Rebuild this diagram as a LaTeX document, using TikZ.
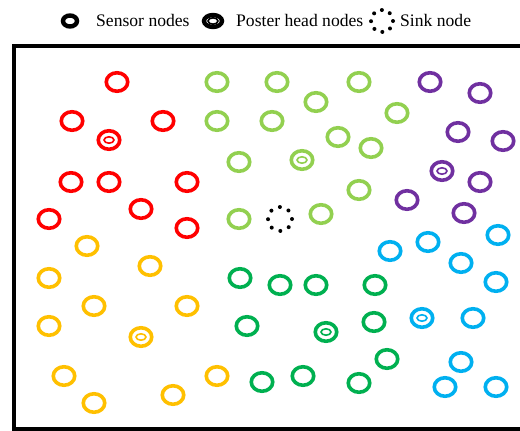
\documentclass[tikz,border=0pt]{standalone}
\usepackage{fontspec}
\setmainfont{Liberation Serif}
\usetikzlibrary{shapes.geometric}
\definecolor{redn}{HTML}{FF0000}
\definecolor{lgreen}{HTML}{92D050}
\definecolor{purp}{HTML}{7030A0}
\definecolor{skyb}{HTML}{00B0F0}
\definecolor{dgreen}{HTML}{00B050}
\definecolor{orng}{HTML}{FFC000}
\tikzset{
	sensor/.style={ellipse, draw=#1, line width=3.6pt, minimum width=21.5pt, minimum height=18.5pt, inner sep=0pt},
	head/.style={sensor=#1, path picture={\draw[#1, line width=1.6pt] (path picture bounding box.center) ellipse (5pt and 3.2pt);}},
	sink/.style={circle, draw=black, line width=4pt, line cap=round, dash pattern=on 0pt off 9.42pt, minimum size=24pt, inner sep=0pt},
	legtext/.style={anchor=base west, inner sep=0pt, font=\fontsize{17.6}{20}\selectfont}
}
\begin{document}
\begin{tikzpicture}[x=1pt,y=-1pt]
		\useasboundingbox (0,0) rectangle (520,431);
		\fill[white] (0,0) rectangle (520,431);
		
		% legend
		\node[ellipse, draw=black, line width=4.4pt, minimum width=14pt, minimum height=11pt, inner sep=0pt] (lsensor) at (70,21) {};
		\node[legtext] (tsensor) at (96,27) {Sensor nodes};
		\node[head=black, line width=4.4pt, minimum width=18pt, minimum height=12pt] (lhead) at (213,21) {};
		\node[legtext] (thead) at (236,27) {Poster head nodes};
		\node[sink, minimum size=22pt, dash pattern=on 0pt off 8.64pt] (lsink) at (382,21) {};
		\node[legtext] (tsink) at (400,27) {Sink node};
		
		% field
		\draw[line width=4pt] (14,46) rectangle (545,429);
		
		% red cluster
		\node[sensor=redn] (r1) at (117,82) {};
		\node[sensor=redn] (r2) at (72,121) {};
		\node[sensor=redn] (r3) at (163,121) {};
		\node[head=redn] (rh) at (109,140) {};
		\node[sensor=redn] (r4) at (71,182) {};
		\node[sensor=redn] (r5) at (109,182) {};
		\node[sensor=redn] (r6) at (187,182) {};
		\node[sensor=redn] (r7) at (141,209) {};
		\node[sensor=redn] (r8) at (49,219) {};
		\node[sensor=redn] (r9) at (187,228) {};
		
		% light green cluster
		\node[sensor=lgreen] (lg1) at (217,82) {};
		\node[sensor=lgreen] (lg2) at (277,82) {};
		\node[sensor=lgreen] (lg3) at (359,82) {};
		\node[sensor=lgreen] (lg4) at (316,102) {};
		\node[sensor=lgreen] (lg5) at (397,113) {};
		\node[sensor=lgreen] (lg6) at (217,121) {};
		\node[sensor=lgreen] (lg7) at (272,121) {};
		\node[sensor=lgreen] (lg8) at (338,137) {};
		\node[sensor=lgreen] (lg9) at (371,148) {};
		\node[head=lgreen] (lgh) at (302,160) {};
		\node[sensor=lgreen] (lg10) at (239,162) {};
		\node[sensor=lgreen] (lg11) at (359,190) {};
		\node[sensor=lgreen] (lg12) at (321,214) {};
		\node[sensor=lgreen] (lg13) at (239,219) {};
		
		% sink
		\node[sink] (sk) at (280,219) {};
		
		% purple cluster
		\node[sensor=purp] (p1) at (430,82) {};
		\node[sensor=purp] (p2) at (480,93) {};
		\node[sensor=purp] (p3) at (458,132) {};
		\node[sensor=purp] (p4) at (503,141) {};
		\node[head=purp] (ph) at (442,171) {};
		\node[sensor=purp] (p5) at (480,182) {};
		\node[sensor=purp] (p6) at (407,200) {};
		\node[sensor=purp] (p7) at (464,213) {};
		
		% blue cluster
		\node[sensor=skyb] (b1) at (498,235) {};
		\node[sensor=skyb] (b2) at (428,242) {};
		\node[sensor=skyb] (b3) at (390,251) {};
		\node[sensor=skyb] (b4) at (461,263) {};
		\node[sensor=skyb] (b5) at (496,282) {};
		\node[head=skyb] (bh) at (422,318) {};
		\node[sensor=skyb] (b6) at (473,318) {};
		\node[sensor=skyb] (b7) at (461,362) {};
		\node[sensor=skyb] (b8) at (445,387) {};
		\node[sensor=skyb] (b9) at (496,387) {};
		
		% dark green cluster
		\node[sensor=dgreen] (dg1) at (240,278) {};
		\node[sensor=dgreen] (dg2) at (280,285) {};
		\node[sensor=dgreen] (dg3) at (316,285) {};
		\node[sensor=dgreen] (dg4) at (375,285) {};
		\node[sensor=dgreen] (dg5) at (247,326) {};
		\node[sensor=dgreen] (dg6) at (374,322) {};
		\node[head=dgreen] (dgh) at (326,332) {};
		\node[sensor=dgreen] (dg7) at (387,359) {};
		\node[sensor=dgreen] (dg8) at (303,376) {};
		\node[sensor=dgreen] (dg9) at (262,382) {};
		\node[sensor=dgreen] (dg10) at (359,383) {};
		
		% orange cluster
		\node[sensor=orng] (o1) at (87,246) {};
		\node[sensor=orng] (o2) at (150,266) {};
		\node[sensor=orng] (o3) at (49,278) {};
		\node[sensor=orng] (o4) at (94,306) {};
		\node[sensor=orng] (o5) at (187,306) {};
		\node[sensor=orng] (o6) at (49,326) {};
		\node[head=orng] (oh) at (141,337) {};
		\node[sensor=orng] (o7) at (64,376) {};
		\node[sensor=orng] (o8) at (217,376) {};
		\node[sensor=orng] (o9) at (173,395) {};
		\node[sensor=orng] (o10) at (94,403) {};
	\end{tikzpicture}
\end{document}
